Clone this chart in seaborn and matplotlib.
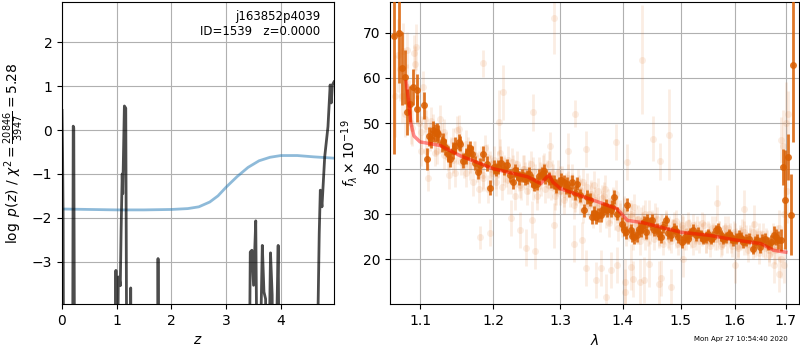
import matplotlib
matplotlib.use("Agg")
import matplotlib.pyplot as plt
from matplotlib.ticker import NullLocator
import seaborn as sns
import numpy as np
import pandas as pd

# ---------------- Left panel data ----------------
z_grid = [0.000, 0.010, 0.020, 0.035, 0.190, 0.205, 0.215, 0.235,
          0.975, 0.985, 0.995, 1.030, 1.050, 1.065, 1.080, 1.100, 1.110, 1.140, 1.165, 1.190,
          1.245, 1.255, 1.270, 1.740, 1.755, 1.775,
          3.410, 3.440, 3.470, 3.500, 3.540, 3.580, 3.660, 3.690, 3.720, 3.750,
          3.810, 3.840, 3.870, 3.950, 3.980,
          4.630, 4.700, 4.720, 4.750, 4.800, 4.860, 4.900, 4.920, 4.940, 4.970]
logpz = [0.45, -0.5, -1.9, -8, -8, 0.09, 0.05, -8,
         -8, -3.2, -8, -3.35, -3.4, -3.55, -2.3, -1.0, -1.45, 0.55, 0.5, -8,
         -8, -3.6, -8, -8, -2.93, -8,
         -8, -2.78, -2.74, -3.54, -2.07, -8, -2.63, -3.69, -3.85, -8,
         -2.8, -3.76, -8, -2.63, -8,
         -8, -2.36, -1.37, -1.75, -0.61, 0.08, 1.03, 0.62, 1.03, 1.1]

z_chi = [0.0, 0.5, 1.0, 1.5, 2.0, 2.3, 2.5, 2.7, 2.85, 3.0, 3.2, 3.4, 3.6, 3.8, 4.0, 4.3, 4.6, 4.97]
chi_curve = [-1.80, -1.81, -1.82, -1.82, -1.81, -1.79, -1.75, -1.64, -1.50, -1.30, -1.06, -0.85, -0.70, -0.62, -0.58, -0.58, -0.61, -0.64]

# ---------------- Right panel data ----------------
bin_wave = [1.0668, 1.0732, 1.0767, 1.0805, 1.0826, 1.0869, 1.0912, 1.0956, 1.0965, 1.1053,
            1.1097, 1.1123, 1.1176, 1.1221, 1.1243, 1.1288, 1.1333, 1.1378, 1.1400, 1.1470,
            1.1515, 1.1537, 1.1583, 1.1652, 1.1700, 1.1746, 1.1792, 1.1862, 1.1910, 1.1958,
            1.2006, 1.2076, 1.2149, 1.2199, 1.2281, 1.2345, 1.2419, 1.2494, 1.2568, 1.2643,
            1.2719, 1.2769, 1.2820, 1.2894, 1.2974, 1.3051, 1.3104, 1.3182, 1.3261, 1.3314,
            1.3367, 1.3421, 1.3501, 1.3555, 1.3637, 1.3693, 1.3745, 1.3800, 1.3852, 1.3909,
            1.3992, 1.4050, 1.4076, 1.4133, 1.4192, 1.4244, 1.4302, 1.4361, 1.4417, 1.4475,
            1.4527, 1.4590, 1.4648, 1.4736, 1.4823, 1.4882, 1.4945, 1.5022, 1.5123, 1.5215,
            1.5272, 1.5364, 1.5456, 1.5546, 1.5640, 1.5736, 1.5829, 1.5926, 1.6020, 1.6114,
            1.6211, 1.6341, 1.6431, 1.6529, 1.6641, 1.6765, 1.6838, 1.6905, 1.6938, 1.6988,
            1.7053, 1.7105, 1.7153,
            1.1150, 1.1200, 1.1310, 1.1440, 1.1620, 1.1680, 1.1820, 1.2040, 1.2110, 1.2240,
            1.2310, 1.2380, 1.2460, 1.2530, 1.2600, 1.2680, 1.2745, 1.2850, 1.2935, 1.3010,
            1.3080, 1.3140, 1.3220, 1.3460, 1.3530, 1.3590, 1.3665, 1.3720, 1.3830, 1.4020,
            1.4160, 1.4270, 1.4330, 1.4390, 1.4500, 1.4620, 1.4690, 1.4780, 1.4910, 1.5070,
            1.5170, 1.5320, 1.5410, 1.5500, 1.5590, 1.5690, 1.5780, 1.5880, 1.5970, 1.6070,
            1.6160, 1.6270, 1.6390, 1.6480, 1.6590, 1.6700, 1.6810]
bin_flux = [69.2, 69.8, 62.1, 60.2, 52.5, 54.2, 58.0, 57.3, 53.2, 54.0,
            42.1, 47.1, 48.5, 48.1, 47.7, 45.5, 44.8, 43.3, 42.2, 45.1,
            45.9, 45.5, 41.8, 43.7, 43.3, 41.3, 39.3, 43.3, 41.1, 35.8,
            40.4, 40.4, 40.0, 40.7, 37.1, 38.9, 38.5, 38.2, 37.4, 36.7,
            38.9, 38.2, 37.8, 37.1, 36.7, 37.1, 36.7, 37.1, 36.7, 34.1,
            30.8, 33.8, 29.3, 29.3, 29.7, 31.2, 30.8, 30.8, 33.8, 30.1,
            27.9, 26.0, 32.1, 26.4, 24.9, 25.3, 26.4, 28.2, 28.6, 27.9,
            26.4, 26.8, 24.9, 28.6, 25.3, 26.8, 24.9, 23.8, 24.6, 26.5,
            25.3, 25.3, 24.9, 24.6, 26.4, 25.3, 24.9, 24.9, 24.6, 24.8,
            24.2, 22.4, 24.2, 24.3, 23.5, 25.3, 24.3, 24.3, 40.4, 33.2,
            42.6, 29.9, 62.8,
            46.5, 47.8, 46.0, 44.0, 42.8, 44.5, 40.8, 39.8, 41.2, 38.5,
            39.6, 38.0, 37.8, 38.8, 36.5, 38.4, 39.5, 37.2, 36.2, 37.5,
            36.0, 35.2, 34.6, 33.2, 30.2, 29.8, 31.0, 31.8, 31.5, 26.5,
            25.2, 26.8, 27.4, 26.0, 28.8, 25.6, 27.2, 25.8, 26.2, 25.0,
            25.8, 25.9, 24.5, 25.5, 25.0, 26.8, 24.5, 25.6, 24.2, 25.2,
            23.8, 24.6, 23.8, 22.8, 24.5, 23.8, 25.0]
bin_err = [26.0, 11.0, 8.0, 6.0, 5.0, 4.0, 4.0, 3.5, 3.0, 3.0,
           2.5, 2.0, 2.0, 2.0, 2.0, 1.8, 1.8, 1.8, 1.8, 1.8,
           1.8, 1.7, 1.7, 1.7, 1.7, 1.6, 1.6, 1.6, 1.6, 1.6,
           1.5, 1.5, 1.5, 1.5, 1.5, 1.5, 1.5, 1.5, 1.5, 1.5,
           1.5, 1.5, 1.5, 1.5, 1.5, 1.5, 1.5, 1.5, 1.5, 1.5,
           1.5, 1.5, 1.5, 1.5, 1.5, 1.5, 1.5, 1.5, 1.5, 1.5,
           1.5, 1.4, 1.4, 1.4, 1.4, 1.4, 1.4, 1.4, 1.4, 1.4,
           1.3, 1.3, 1.3, 1.3, 1.3, 1.3, 1.3, 1.3, 1.3, 1.3,
           1.2, 1.2, 1.2, 1.2, 1.2, 1.2, 1.2, 1.2, 1.2, 1.2,
           1.3, 1.3, 1.3, 1.4, 1.5, 2.0, 2.0, 2.5, 4.0, 11.0,
           5.0, 9.0, 17.0,
           2.0, 2.0, 1.8, 1.8, 1.7, 1.7, 1.6, 1.5, 1.5, 1.5,
           1.5, 1.5, 1.5, 1.5, 1.5, 1.5, 1.5, 1.5, 1.5, 1.5,
           1.5, 1.5, 1.5, 1.5, 1.5, 1.5, 1.5, 1.5, 1.5, 1.4,
           1.4, 1.4, 1.4, 1.4, 1.3, 1.3, 1.3, 1.3, 1.3, 1.3,
           1.2, 1.2, 1.2, 1.2, 1.2, 1.2, 1.2, 1.2, 1.2, 1.2,
           1.3, 1.3, 1.3, 1.3, 1.4, 1.5, 1.8]

raw_wave = [1.068, 1.071, 1.074, 1.076, 1.078, 1.080, 1.083, 1.086, 1.088, 1.090,
            1.092, 1.094, 1.096, 1.098, 1.101, 1.104, 1.106, 1.108, 1.111, 1.114,
            1.117, 1.120, 1.123, 1.126, 1.129, 1.132, 1.135, 1.138, 1.141, 1.144,
            1.147, 1.150, 1.153, 1.156, 1.159, 1.162, 1.165, 1.168, 1.171, 1.174,
            1.177, 1.180, 1.183, 1.186, 1.189, 1.192, 1.195, 1.198, 1.201, 1.204,
            1.207, 1.210, 1.213, 1.216, 1.219, 1.222, 1.225, 1.228, 1.231, 1.234,
            1.237, 1.240, 1.243, 1.246, 1.249, 1.252, 1.255, 1.258, 1.261, 1.264,
            1.267, 1.270, 1.273, 1.276, 1.279, 1.282, 1.285, 1.288, 1.291, 1.294,
            1.297, 1.300, 1.303, 1.306, 1.309, 1.312, 1.315, 1.318, 1.321, 1.324,
            1.327, 1.330, 1.333, 1.336, 1.339, 1.342, 1.345, 1.348, 1.351, 1.354,
            1.357, 1.360, 1.363, 1.366, 1.369, 1.372, 1.375, 1.378, 1.381, 1.384,
            1.387, 1.390, 1.393, 1.396, 1.399, 1.402, 1.405, 1.408, 1.411, 1.414,
            1.417, 1.420, 1.423, 1.426, 1.429, 1.432, 1.435, 1.438, 1.441, 1.444,
            1.447, 1.450, 1.453, 1.456, 1.459, 1.462, 1.465, 1.468, 1.471, 1.474,
            1.477, 1.480, 1.483, 1.486, 1.489, 1.492, 1.495, 1.498, 1.502, 1.506,
            1.510, 1.514, 1.518, 1.522, 1.526, 1.530, 1.534, 1.538, 1.542, 1.546,
            1.550, 1.554, 1.558, 1.562, 1.566, 1.570, 1.574, 1.578, 1.582, 1.586,
            1.590, 1.594, 1.598, 1.602, 1.606, 1.610, 1.614, 1.618, 1.622, 1.626,
            1.630, 1.634, 1.638, 1.642, 1.646, 1.650, 1.654, 1.658, 1.662, 1.666,
            1.670, 1.674, 1.678, 1.682, 1.686, 1.690, 1.694, 1.697, 1.700, 1.702,
            # outliers
            1.2894, 1.4331, 1.1862, 1.2134, 1.2583, 1.3222, 1.2090, 1.0947, 1.0826, 1.1515,
            1.4512, 1.4794, 1.3892, 1.3394, 1.2845, 1.3115, 1.4065, 1.4636, 1.1815, 1.1948,
            1.2256, 1.2394, 1.2484, 1.2618, 1.2568, 1.2894, 1.3208, 1.3341, 1.3394, 1.3555,
            1.3637, 1.3729, 1.3800, 1.3909, 1.4034, 1.4040, 1.4133, 1.4180, 1.4285, 1.4361,
            1.4446, 1.4619, 1.4648, 1.4823, 1.5045, 1.6008, 1.6871, 1.6972, 1.6765, 1.5659,
            1.6370, 1.6180, 1.7042, 1.6905,
            # second dense band
            1.1015, 1.1075, 1.1135, 1.1195, 1.1255, 1.1315, 1.1375, 1.1435, 1.1495, 1.1555,
            1.1615, 1.1675, 1.1735, 1.1795, 1.1855, 1.1915, 1.1975, 1.2035, 1.2095, 1.2155,
            1.2215, 1.2275, 1.2335, 1.2395, 1.2455, 1.2515, 1.2575, 1.2635, 1.2695, 1.2755,
            1.2815, 1.2875, 1.2935, 1.2995, 1.3055, 1.3115, 1.3175, 1.3235, 1.3295, 1.3355,
            1.3415, 1.3475, 1.3535, 1.3595, 1.3655, 1.3715, 1.3775, 1.3835, 1.3895, 1.3955,
            1.4015, 1.4075, 1.4135, 1.4195, 1.4255, 1.4315, 1.4375, 1.4435, 1.4495, 1.4555,
            1.4615, 1.4675, 1.4735, 1.4795, 1.4855, 1.4915, 1.4975, 1.5035, 1.5095, 1.5155,
            1.5215, 1.5275, 1.5335, 1.5395, 1.5455, 1.5515, 1.5575, 1.5635, 1.5695, 1.5755,
            1.5815, 1.5875, 1.5935, 1.5995, 1.6055, 1.6115, 1.6175, 1.6235, 1.6295, 1.6355,
            1.6415, 1.6475, 1.6535, 1.6595, 1.6655, 1.6715, 1.6775, 1.6835]
raw_flux = [56.0, 65.0, 62.0, 56.0, 66.0, 52.0, 58.0, 55.0, 50.0, 49.0,
            65.5, 63.0, 56.0, 50.0, 48.0, 58.0, 51.0, 44.0, 38.0, 50.5,
            49.0, 46.0, 44.0, 51.0, 47.0, 43.0, 45.0, 38.5, 44.0, 42.0,
            39.0, 48.5, 45.0, 43.0, 41.0, 39.0, 44.0, 42.0, 37.0, 43.0,
            40.0, 35.5, 42.0, 38.0, 44.5, 35.5, 41.0, 39.0, 42.0, 37.0,
            41.0, 43.5, 36.0, 40.0, 39.0, 42.0, 37.5, 40.0, 34.0, 41.0,
            38.0, 36.0, 40.0, 38.5, 35.0, 39.0, 41.0, 36.0, 38.0, 34.0,
            39.5, 37.0, 40.0, 35.5, 39.0, 41.0, 36.0, 38.0, 34.0, 37.0,
            39.0, 35.0, 37.5, 33.0, 36.0, 38.0, 34.5, 36.0, 32.0, 35.0,
            37.0, 33.0, 35.0, 31.0, 34.0, 36.0, 32.0, 34.0, 30.0, 33.0,
            31.5, 35.0, 29.0, 32.0, 34.0, 30.0, 32.5, 28.0, 31.0, 33.0,
            29.5, 31.0, 27.0, 30.0, 28.0, 31.0, 26.0, 29.0, 27.0, 30.0,
            25.0, 28.0, 26.5, 29.0, 24.0, 27.5, 29.0, 25.0, 27.0, 30.0,
            26.0, 28.0, 24.5, 27.0, 29.0, 25.0, 27.5, 23.5, 26.0, 28.0,
            25.0, 27.0, 24.0, 26.5, 28.0, 25.0, 23.5, 26.0, 27.5, 24.5,
            26.0, 28.0, 25.0, 23.5, 26.0, 27.0, 24.0, 25.5, 27.5, 24.0,
            26.0, 23.0, 25.5, 27.0, 24.5, 26.0, 23.0, 25.0, 27.0, 24.0,
            25.5, 23.0, 26.0, 24.5, 22.5, 25.0, 26.5, 23.5, 25.0, 22.0,
            24.5, 26.0, 23.0, 24.5, 21.5, 24.0, 25.5, 22.5, 24.0, 21.0,
            23.5, 25.0, 22.0, 24.5, 27.0, 20.0, 45.0, 30.0, 50.0, 35.0,
            73.3, 64.0, 63.2, 56.8, 52.4, 52.1, 50.3, 66.8, 66.1, 48.8,
            46.6, 47.5, 45.9, 44.4, 45.0, 43.9, 41.5, 41.6, 24.9, 25.9,
            29.2, 26.5, 22.6, 21.8, 28.8, 27.5, 23.5, 24.2, 18.1, 15.4,
            18.1, 11.7, 17.6, 18.8, 15.0, 12.8, 18.3, 15.7, 15.0, 15.5,
            19.0, 14.6, 15.9, 14.0, 20.1, 18.8, 16.8, 18.7, 18.7, 32.5,
            27.9, 31.2, 52.1, 46.3,
            44.0, 49.5, 47.0, 43.5, 46.5, 48.0, 42.5, 46.0, 44.0, 41.5,
            45.5, 40.5, 43.0, 41.0, 38.5, 42.5, 40.0, 38.5, 42.0, 39.5,
            37.5, 41.5, 39.0, 36.5, 40.0, 37.5, 39.5, 35.5, 38.5, 40.5,
            36.5, 39.0, 35.0, 37.5, 34.5, 36.5, 38.0, 33.5, 35.5, 37.0,
            32.5, 34.5, 36.5, 31.5, 33.5, 35.5, 30.5, 32.5, 34.5, 29.5,
            30.5, 27.5, 29.5, 31.5, 26.5, 28.5, 30.0, 26.0, 28.0, 29.5,
            25.5, 27.5, 28.5, 24.5, 26.5, 28.5, 25.5, 27.0, 24.5, 26.5,
            27.5, 24.5, 26.0, 28.0, 24.0, 25.5, 27.0, 24.5, 26.0, 23.5,
            25.5, 27.0, 24.0, 25.5, 23.0, 24.5, 26.0, 23.5, 25.0, 22.5,
            24.0, 25.5, 23.0, 24.5, 22.0, 23.5, 24.5, 22.5]
raw_err = [9.0, 8.0, 7.0, 6.0, 6.0, 5.0, 5.0, 4.5, 4.5, 4.0,
           4.0, 4.0, 3.5, 3.5, 3.5, 3.5, 3.0, 3.0, 3.0, 3.0,
           3.0, 3.0, 3.0, 3.0, 3.0, 3.0, 3.0, 3.0, 3.0, 3.0,
           3.0, 3.0, 3.0, 3.0, 3.0, 3.0, 3.0, 3.0, 3.0, 3.0,
           3.0, 3.0, 3.0, 3.0, 3.0, 3.0, 3.0, 3.0, 3.0, 3.0,
           3.0, 3.0, 3.0, 3.0, 3.0, 3.0, 3.0, 3.0, 3.0, 3.0,
           3.0, 3.0, 3.0, 3.0, 3.0, 3.0, 3.0, 3.0, 3.0, 3.0,
           3.0, 3.0, 3.0, 3.0, 3.0, 3.0, 3.0, 3.0, 3.0, 3.0,
           3.0, 3.0, 3.0, 3.0, 3.0, 3.0, 3.0, 3.0, 3.0, 3.0,
           3.0, 3.0, 3.0, 3.0, 3.0, 3.0, 3.0, 3.0, 3.0, 3.0,
           3.0, 3.0, 3.0, 3.0, 3.0, 3.0, 3.0, 3.0, 3.0, 3.0,
           3.0, 3.0, 3.0, 3.0, 3.0, 3.0, 3.0, 3.0, 3.0, 3.0,
           3.0, 3.0, 3.0, 3.0, 3.0, 3.0, 3.0, 3.0, 3.0, 3.0,
           2.5, 2.5, 2.5, 2.5, 2.5, 2.5, 2.5, 2.5, 2.5, 2.5,
           2.5, 2.5, 2.5, 2.5, 2.5, 2.5, 2.5, 2.5, 2.5, 2.5,
           2.5, 2.5, 2.5, 2.5, 2.5, 2.5, 2.5, 2.5, 2.5, 2.5,
           2.5, 2.5, 2.5, 2.5, 2.5, 2.5, 2.5, 2.5, 2.5, 2.5,
           2.5, 2.5, 2.5, 2.5, 2.5, 2.5, 2.5, 2.5, 2.5, 2.5,
           2.5, 2.5, 2.5, 2.5, 2.5, 2.5, 2.5, 2.5, 2.5, 2.5,
           3.0, 3.0, 3.0, 3.0, 4.0, 4.0, 8.0, 6.0, 9.0, 7.0,
           8.0, 12.0, 3.0, 6.0, 4.0, 3.0, 7.0, 5.0, 4.0, 3.0,
           5.0, 10.0, 4.0, 4.0, 3.0, 4.0, 4.0, 4.0, 2.5, 3.0,
           4.0, 4.0, 4.0, 4.0, 4.0, 5.0, 4.0, 4.0, 4.0, 4.0,
           4.0, 5.0, 4.0, 4.0, 5.0, 5.0, 5.0, 4.0, 5.0, 5.0,
           5.0, 5.0, 4.0, 4.0, 4.0, 4.0, 4.0, 4.0, 4.0, 4.0,
           4.0, 4.0, 5.0, 5.0,
           3.5, 3.5, 3.0, 3.0, 3.0, 3.0, 3.0, 3.0, 3.0, 3.0,
           3.0, 3.0, 3.0, 3.0, 3.0, 3.0, 3.0, 3.0, 3.0, 3.0,
           3.0, 3.0, 3.0, 3.0, 3.0, 3.0, 3.0, 3.0, 3.0, 3.0,
           3.0, 3.0, 3.0, 3.0, 3.0, 3.0, 3.0, 3.0, 3.0, 3.0,
           3.0, 3.0, 3.0, 3.0, 3.0, 3.0, 3.0, 3.0, 3.0, 3.0,
           3.0, 3.0, 3.0, 3.0, 3.0, 3.0, 3.0, 3.0, 3.0, 3.0,
           2.5, 2.5, 2.5, 2.5, 2.5, 2.5, 2.5, 2.5, 2.5, 2.5,
           2.5, 2.5, 2.5, 2.5, 2.5, 2.5, 2.5, 2.5, 2.5, 2.5,
           2.5, 2.5, 2.5, 2.5, 2.5, 2.5, 2.5, 2.5, 2.5, 2.5,
           2.5, 2.5, 2.5, 2.5, 2.5, 2.5, 2.5, 2.5]

model_wave = [1.0819, 1.0850, 1.0880, 1.0920, 1.1000, 1.1266, 1.1530, 1.2000, 1.2506, 1.2700,
              1.2780, 1.2830, 1.2880, 1.3000, 1.3530, 1.3900, 1.4080, 1.4340, 1.5000, 1.5530,
              1.6000, 1.6500, 1.6760, 1.7000]
model_flux = [59.1, 55.0, 50.0, 47.2, 45.9, 45.1, 42.9, 40.0, 38.2, 36.7,
              38.0, 38.6, 37.1, 35.6, 33.0, 31.2, 28.6, 28.1, 26.0, 25.3,
              24.3, 23.5, 22.0, 21.6]

lam_ticks = [1.1, 1.2, 1.3, 1.4, 1.5, 1.6, 1.7]
lam_labels = ["1.1", "1.2", "1.3", "1.4", "1.5", "1.6", "1.7"]

# ---------------- Figure ----------------
fig = plt.figure(figsize=(8, 3.5), dpi=100)
ax1 = fig.add_axes([0.0775, 0.131, 0.34, 0.863])
ax2 = fig.add_axes([0.4875, 0.131, 0.511, 0.863])

df_pz = pd.DataFrame({"z": z_grid, "logpz": logpz})
df_chi = pd.DataFrame({"z": z_chi, "chi": chi_curve})
sns.lineplot(data=df_chi, x="z", y="chi", ax=ax1, color="tab:blue", alpha=0.5, lw=2,
             sort=False, estimator=None)
sns.lineplot(data=df_pz, x="z", y="logpz", ax=ax1, color="black", alpha=0.7, lw=2,
             sort=False, estimator=None)
ax1.set_xlim(0, 4.97)
ax1.set_ylim(-3.97, 2.92)
ax1.set_xticks([0, 1, 2, 3, 4])
ax1.set_yticks([-3, -2, -1, 0, 1, 2])
ax1.grid(True, color="#b0b0b0", lw=0.8)
ax1.set_axisbelow(True)
ax1.set_xlabel(r"$z$")
ax1.set_ylabel(r"$\log\ p(z)$ / $\chi^2=\frac{20846}{3947}=5.28$")
ax1.text(0.95, 0.975, "j163852p4039\nID=1539   z=0.0000", transform=ax1.transAxes,
         ha="right", va="top", fontsize=8.5)

# right panel
ax2.errorbar(raw_wave, raw_flux, yerr=raw_err, fmt="o", color="#e07020", alpha=0.12,
             ms=5, elinewidth=2, capsize=0, mew=0, zorder=2)
ax2.errorbar(bin_wave, bin_flux, yerr=bin_err, fmt="o", color="#d95f02", alpha=0.85,
             ms=5, elinewidth=2, capsize=0, mew=0, zorder=3)
df_model = pd.DataFrame({"wave": model_wave, "flux": model_flux})
sns.lineplot(data=df_model, x="wave", y="flux", ax=ax2, color="red", alpha=0.45, lw=2.5,
             sort=False, estimator=None, zorder=4)
ax2.set_xscale("log")
ax2.set_xlim(1.0613, 1.7265)
ax2.set_xticks(lam_ticks)
ax2.set_xticklabels(lam_labels)
ax2.xaxis.set_minor_locator(NullLocator())
ax2.set_ylim(10.15, 76.7)
ax2.set_yticks([20, 30, 40, 50, 60, 70])
ax2.grid(True, color="#b0b0b0", lw=0.8)
ax2.set_axisbelow(True)
ax2.set_xlabel(r"$\lambda$")
ax2.set_ylabel(r"$f_\lambda\times10^{-19}$", labelpad=2)

fig.text(0.985, 0.022, "Mon Apr 27 10:54:40 2020", ha="right", va="bottom", fontsize=5)

fig.savefig("out.png", dpi=100)
